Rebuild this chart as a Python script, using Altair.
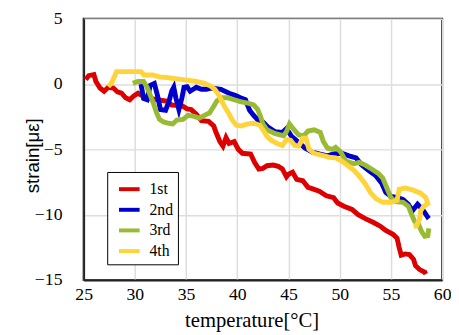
import altair as alt
import pandas as pd

series = ["1st", "2nd", "3rd", "4th"]
colors = ["#dd0000", "#0000cc", "#99bb33", "#ffd43b"]

t1 = [25.2, 25.5, 26.0, 26.2, 26.6, 27.0, 27.4, 27.9, 28.3, 28.7, 29.1, 29.5, 29.9, 30.3, 30.6,
      31.2, 32.2, 33.1, 33.6, 34.6, 35.1, 35.5, 36.0, 36.5, 37.2, 37.7, 37.9, 38.3, 38.6, 38.9,
      39.2, 39.7, 40.1, 40.5, 41.3, 41.7, 42.1, 42.5, 42.9, 43.5, 44.0, 44.4, 44.8, 45.0, 45.4,
      45.8, 46.4, 46.9, 47.3, 48.0, 48.7, 49.4, 49.8, 50.4, 51.2, 51.8, 52.5, 53.3, 54.0, 54.5,
      55.2, 55.6, 55.8, 56.0, 56.4, 56.8, 57.2, 57.4, 57.8, 58.3, 58.4]
s1 = [0.35, 0.64, 0.72, 0.2, -0.3, -0.55, -0.25, -0.3, -0.6, -0.7, -1.05, -1.2, -0.9, -0.7, -0.85,
      -1.05, -1.2, -1.3, -1.6, -1.65, -1.9, -1.95, -2.3, -2.8, -2.85, -3.2, -3.65, -4.4, -4.75, -4.1,
      -4.55, -4.4, -5.0, -5.3, -5.35, -6.0, -6.5, -6.45, -6.25, -6.2, -6.3, -6.5, -7.1, -6.9, -6.75,
      -7.3, -7.4, -7.9, -8.0, -8.2, -8.55, -8.7, -9.1, -9.35, -9.6, -10.0, -10.3, -10.6, -10.9, -11.2,
      -11.5, -11.8, -12.5, -13.1, -13.0, -13.05, -13.4, -13.9, -14.2, -14.4, -14.55]

t2 = [30.6, 30.85, 31.2, 31.5, 31.9, 32.2, 32.5, 33.0, 33.3, 33.6, 33.8, 34.0, 34.3, 34.6, 34.8,
      35.1, 35.4, 35.7, 36.0, 36.5, 37.0, 37.5, 38.4, 39.2, 39.9, 40.3, 40.8, 41.2, 41.6, 42.0,
      42.5, 43.0, 43.7, 44.4, 44.8, 45.3, 45.9, 46.6, 47.3, 48.0, 48.8, 49.4, 50.2, 50.9, 51.6,
      52.1, 52.8, 53.5, 54.1, 54.5, 55.0, 55.7, 56.2, 56.7, 57.1, 57.6, 58.1, 58.6, 58.7]
s2 = [0.0, -1.1, -1.2, -0.1, 0.05, -0.85, -1.95, -2.0, -1.4, -0.55, -0.25, -1.05, -1.95, -1.05, -0.25,
      -0.2, -0.55, -0.4, -0.25, -0.4, -0.4, -0.3, -0.4, -0.7, -0.9, -1.05, -1.2, -2.0, -2.4, -2.75,
      -2.9, -3.3, -3.65, -3.7, -3.4, -4.0, -4.4, -4.9, -5.2, -5.35, -5.5, -5.35, -5.3, -5.5, -5.65,
      -6.15, -6.6, -7.0, -7.6, -8.3, -8.6, -8.7, -8.85, -9.2, -9.7, -9.2, -9.6, -10.2, -10.3]

t3 = [29.8, 30.3, 30.85, 31.2, 31.5, 31.8, 32.1, 32.4, 32.8, 33.3, 33.7, 34.1, 34.7, 35.2, 35.7,
      36.3, 36.8, 37.3, 37.7, 38.0, 38.5, 39.1, 39.7, 40.3, 41.0, 41.6, 42.0, 42.3, 42.5, 42.9,
      43.7, 44.5, 44.8, 45.1, 45.5, 46.0, 46.5, 46.9, 47.5, 48.1, 48.4, 48.8, 49.3, 49.6, 50.1,
      50.6, 51.4, 51.9, 52.5, 53.1, 53.8, 54.2, 54.6, 55.0, 55.5, 56.2, 56.7, 57.0, 57.3, 57.7,
      58.0, 58.3, 58.6, 58.7]
s3 = [0.05, 0.2, 0.2, -0.25, -0.85, -1.45, -2.15, -2.7, -2.9, -3.0, -3.05, -2.75, -2.7, -2.4, -2.45,
      -2.6, -2.4, -2.2, -1.7, -1.3, -1.05, -1.05, -1.2, -1.35, -1.45, -1.6, -1.95, -2.55, -3.05, -3.5,
      -3.8, -3.95, -3.65, -3.05, -3.45, -3.9, -3.95, -3.6, -3.5, -3.7, -4.4, -4.9, -5.0, -4.85, -5.2,
      -5.9, -6.1, -6.0, -6.2, -6.5, -6.85, -7.2, -7.95, -8.7, -9.0, -9.05, -9.35, -9.95, -10.5, -10.75,
      -11.3, -11.65, -11.6, -11.05]

t4 = [27.4, 27.7, 28.0, 28.2, 28.8, 29.8, 30.6, 30.9, 31.7, 32.4, 33.1, 34.1, 35.1, 36.0, 36.8,
      37.4, 37.8, 38.2, 38.7, 39.1, 39.5, 39.9, 40.4, 41.0, 41.6, 42.2, 42.5, 42.9, 43.3, 43.9,
      44.4, 44.8, 45.2, 45.6, 46.0, 46.4, 46.7, 47.0, 47.5, 48.3, 48.95, 49.6, 50.2, 50.8, 51.4,
      51.9, 52.5, 53.0, 53.5, 54.2, 55.0, 55.6, 55.8, 56.4, 57.1, 57.9, 58.4, 58.6, 58.2, 57.9,
      57.8, 57.5, 57.2]
s4 = [-0.2, 0.05, 0.55, 0.95, 0.95, 0.95, 0.95, 0.7, 0.7, 0.55, 0.5, 0.4, 0.3, 0.2, 0.05,
      -0.15, -0.4, -0.85, -1.65, -2.15, -2.75, -3.15, -3.2, -3.05, -3.0, -3.15, -3.5, -4.0, -4.3, -4.55,
      -4.7, -4.25, -4.3, -4.7, -4.75, -4.15, -4.15, -5.0, -5.3, -5.45, -5.6, -5.65, -5.9, -6.25, -6.6,
      -7.05, -7.65, -8.3, -8.75, -9.05, -9.05, -8.9, -8.05, -7.95, -8.1, -8.35, -8.7, -9.15, -9.35, -9.7,
      -10.3, -10.85, -10.9]

x_ticks = [25, 30, 35, 40, 45, 50, 55, 60]
y_ticks = [-15, -10, -5, 0, 5]

rows = []
for name, ts, ss in zip(series, [t1, t2, t3, t4], [s1, s2, s3, s4]):
    for i, (t, s) in enumerate(zip(ts, ss)):
        rows.append({"series": name, "T": t, "S": s, "i": i})
df = pd.DataFrame(rows)

serif = "Liberation Serif"

chart = alt.Chart(df).mark_line(strokeWidth=5, strokeJoin="miter").encode(
    x=alt.X("T:Q",
            scale=alt.Scale(domain=[25, 60], nice=False, zero=False),
            axis=alt.Axis(values=x_ticks, title="temperature[°C]", titleFont=serif,
                          titleFontSize=21, titleFontWeight="normal", titleColor="black",
                          titlePadding=6, titleX=171, labelFont=serif, labelFontSize=18,
                          labelColor="black", labelPadding=6, ticks=False, labelFlush=False,
                          domainColor="#222222", domainWidth=2,
                          gridColor="#dddddd", gridWidth=1.5)),
    y=alt.Y("S:Q",
            scale=alt.Scale(domain=[-15, 5], nice=False, zero=False),
            axis=alt.Axis(values=y_ticks, title="strain[με]", titleFont="Liberation Sans",
                          titleFontSize=19, titleFontWeight="normal", titleColor="black",
                          titleX=-42, titleY=139, labelFont=serif, labelFontSize=18,
                          labelColor="black", labelPadding=22, ticks=False, labelFlush=False,
                          domainColor="#222222", domainWidth=2,
                          gridColor="#dddddd", gridWidth=1.5)),
    color=alt.Color("series:N",
                    scale=alt.Scale(domain=series, range=colors),
                    legend=alt.Legend(title=None, orient="none", legendX=24, legendY=156,
                                      strokeColor="black", fillColor="white", padding=5,
                                      symbolType="stroke", symbolStrokeWidth=4,
                                      symbolSize=441, rowPadding=0, symbolOffset=5,
                                      labelFont=serif, labelFontSize=16,
                                      labelColor="black", labelOffset=8)),
    order="i:Q",
).properties(
    width=365, height=266,
    autosize=alt.AutoSizeParams(type="none"),
    padding={"left": 77, "top": 8, "right": 9, "bottom": 52},
).configure_view(
    stroke="#222222", strokeWidth=2
)

chart.save("out.html", embed_options={"renderer": "svg", "actions": False})
